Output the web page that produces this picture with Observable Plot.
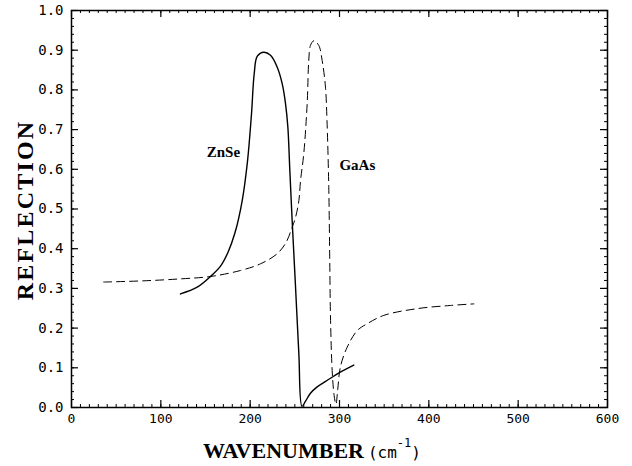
<!DOCTYPE html>
<html>
<head>
<meta charset="utf-8">
<script src="https://cdn.jsdelivr.net/npm/d3@7"></script>
<script src="https://cdn.jsdelivr.net/npm/@observablehq/plot@0.6"></script>
<style>
  html, body { margin: 0; padding: 0; background: #fff; }
  #chart svg { display: block; }
</style>
</head>
<body>
<div id="chart"></div>
<script>
// Tick values
const xTicks = [0, 100, 200, 300, 400, 500, 600];
const yTicks = [0.0, 0.1, 0.2, 0.3, 0.4, 0.5, 0.6, 0.7, 0.8, 0.9, 1.0];
const xMinor = d3.range(0, 601, 10);
const yMinor = d3.range(0, 1.0001, 0.02);

// ZnSe (solid)
const znseX = [122, 140.7, 155.6, 166.8, 175, 183, 191, 197, 201.5, 204.5, 208, 215.3, 222.8, 230.3, 235.9, 239.6, 242.2, 244.4, 247, 250.8, 254.5, 258, 262, 267.5, 275, 286, 300, 316];
const znseY = [0.286, 0.303, 0.33, 0.356, 0.39, 0.44, 0.52, 0.62, 0.74, 0.84, 0.885, 0.895, 0.887, 0.857, 0.815, 0.765, 0.706, 0.597, 0.471, 0.303, 0.135, 0.003, 0.016, 0.036, 0.052, 0.068, 0.088, 0.107];

// GaAs (dashed)
const gaasX = [36, 80, 122, 155.6, 189, 211.6, 230, 240, 247, 250.8, 254.5, 256.4, 260, 263.8, 265.6, 267.5, 271.3, 276.8, 280.6, 284.3, 286, 288, 289, 290, 291.8, 294, 296, 298, 301, 308.6, 320, 331, 349.6, 387, 424, 450.4];
const gaasY = [0.316, 0.319, 0.324, 0.33, 0.345, 0.362, 0.387, 0.415, 0.454, 0.479, 0.521, 0.572, 0.639, 0.765, 0.874, 0.912, 0.924, 0.912, 0.874, 0.807, 0.723, 0.555, 0.387, 0.219, 0.093, 0.03, 0.008, 0.045, 0.102, 0.152, 0.194, 0.211, 0.232, 0.249, 0.257, 0.261];

// Curve labels
const labels = [
  {name: "ZnSe", x: 170, y: 0.642},
  {name: "GaAs", x: 320, y: 0.61}
];

const znse = znseX.map((x, i) => ({x, y: znseY[i]}));
const gaas = gaasX.map((x, i) => ({x, y: gaasY[i]}));

const W = 632, H = 466;
const mL = 71, mR = 25, mT = 10, mB = 59;
const PW = W - mL - mR, PH = H - mT - mB;

const tickFont = "DejaVu Sans Mono, monospace";

const svg = Plot.plot({
  width: W,
  height: H,
  marginLeft: mL,
  marginRight: mR,
  marginTop: mT,
  marginBottom: mB,
  style: {background: "#fff", color: "#000"},
  x: {domain: [0, 600]},
  y: {domain: [0, 1]},
  marks: [
    // minor ticks (inward)
    Plot.tickX(xMinor, {x: d => d, insetTop: PH - 3, stroke: "#000", strokeWidth: 1}),
    Plot.tickX(xMinor, {x: d => d, insetBottom: PH - 3, stroke: "#000", strokeWidth: 1}),
    Plot.tickY(yMinor, {y: d => d, insetRight: PW - 3, stroke: "#000", strokeWidth: 1}),
    Plot.tickY(yMinor, {y: d => d, insetLeft: PW - 3, stroke: "#000", strokeWidth: 1}),
    // major ticks (inward)
    Plot.tickX(xTicks, {x: d => d, insetTop: PH - 7, stroke: "#000", strokeWidth: 1.2}),
    Plot.tickX(xTicks, {x: d => d, insetBottom: PH - 7, stroke: "#000", strokeWidth: 1.2}),
    Plot.tickY(yTicks, {y: d => d, insetRight: PW - 7, stroke: "#000", strokeWidth: 1.2}),
    Plot.tickY(yTicks, {y: d => d, insetLeft: PW - 7, stroke: "#000", strokeWidth: 1.2}),
    // tick labels
    Plot.axisX({anchor: "bottom", ticks: xTicks, tickSize: 0, tickPadding: 6, tickFormat: d => String(d), label: null, fontSize: 13, fontFamily: tickFont}),
    Plot.axisY({anchor: "left", ticks: yTicks, tickSize: 0, tickPadding: 8, tickFormat: d => d.toFixed(1), label: null, fontSize: 14, fontFamily: tickFont}),
    Plot.frame({stroke: "#000", strokeWidth: 1.5}),
    Plot.line(gaas, {x: "x", y: "y", stroke: "#000", strokeWidth: 1, strokeDasharray: "8,5", curve: "catmull-rom"}),
    Plot.line(znse, {x: "x", y: "y", stroke: "#000", strokeWidth: 1.4, curve: "catmull-rom"}),
    Plot.text(labels, {x: "x", y: "y", text: "name", fontFamily: "Liberation Serif, Times New Roman, serif", fontWeight: "bold", fontSize: 15, fill: "#000"})
  ]
});

const s = d3.select(svg);
// X axis title with mixed fonts
const xt = s.append("text")
  .attr("x", 203).attr("y", 458)
  .attr("text-anchor", "start")
  .attr("fill", "#000");
xt.append("tspan")
  .attr("font-family", "Liberation Serif, Times New Roman, serif")
  .attr("font-weight", "bold")
  .attr("font-size", 22)
  .text("WAVENUMBER");
xt.append("tspan")
  .attr("font-family", "DejaVu Sans Mono, monospace")
  .attr("font-size", 16)
  .attr("dx", 4)
  .text("(cm");
xt.append("tspan")
  .attr("font-family", "DejaVu Sans Mono, monospace")
  .attr("font-size", 12)
  .attr("dy", -11)
  .text("-1");
xt.append("tspan")
  .attr("font-family", "DejaVu Sans Mono, monospace")
  .attr("font-size", 16)
  .attr("dy", 11)
  .text(")");

// Y axis title
s.append("text")
  .attr("transform", "translate(33,210) rotate(-90)")
  .attr("text-anchor", "middle")
  .attr("font-family", "Liberation Serif, Times New Roman, serif")
  .attr("font-weight", "bold")
  .attr("font-size", 24)
  .attr("letter-spacing", 2.2)
  .attr("fill", "#000")
  .text("REFLECTION");

document.getElementById("chart").appendChild(svg);
</script>
</body>
</html>
